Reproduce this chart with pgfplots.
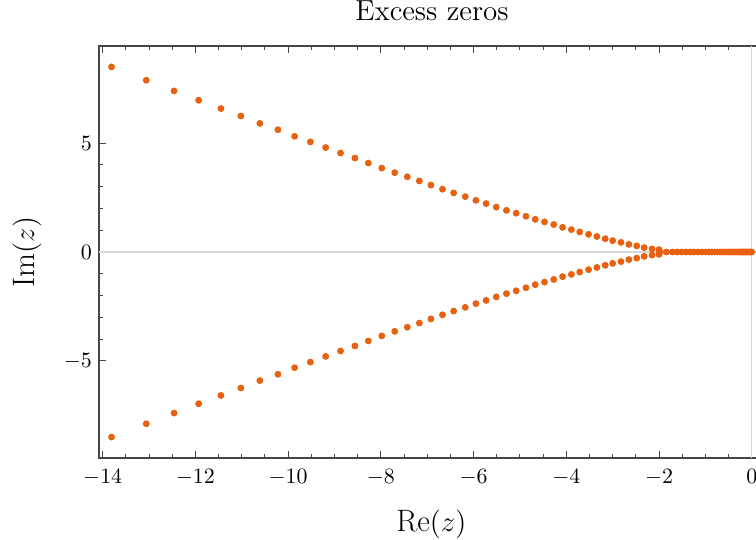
\documentclass[border=0pt]{standalone}
\usepackage{pgfplots}
\pgfplotsset{compat=1.18}
\definecolor{zeroOrange}{RGB}{232,97,16}
\definecolor{frameGray}{RGB}{70,70,70}
\definecolor{axisGray}{RGB}{215,215,215}

\begin{document}
\begin{tikzpicture}
\useasboundingbox (-49.5pt,-41pt) rectangle (328.5pt,229pt);
\begin{axis}[
    scale only axis,
    width=331pt, height=206pt,
    xmin=-14.08, xmax=0.2, ymin=-9.45, ymax=9.45,
    xtick={-14,-12,-10,-8,-6,-4,-2,0},
    ytick={-5,0,5},
    minor x tick num=3,
    minor y tick num=4,
    ytick pos=left,
    tick align=inside,
    major tick length=3.5pt,
    minor tick length=2pt,
    tick style={frameGray, line width=0.5pt},
    axis line style={frameGray, line width=0.6pt},
    tick label style={font=\fontsize{10.8pt}{12pt}\selectfont},
    xticklabel style={yshift=-2pt},
    title={Excess zeros},
    title style={at={(rel axis cs:0.503,1)}, anchor=base, yshift=6.5pt,
        font=\fontsize{14.5pt}{17pt}\selectfont},
    xlabel={Re$(z)$},
    ylabel={Im$(z)$},
    xlabel style={at={(rel axis cs:0.502,-0.16)}, anchor=center,
        font=\fontsize{15.5pt}{18pt}\selectfont},
    ylabel style={at={(rel axis cs:-0.109,0.5)}, anchor=center,
        font=\fontsize{15.5pt}{18pt}\selectfont},
]
\draw[axisGray, line width=0.6pt] (axis cs:-14.08,0) -- (axis cs:0.2,0);
\draw[axisGray, line width=0.6pt] (axis cs:0,-9.45) -- (axis cs:0,9.45);

% upper branch
\addplot[only marks, mark=*, mark size=1.5pt, color=zeroOrange] coordinates {
(-13.81,8.49) (-13.06,7.88) (-12.46,7.39) (-11.93,6.96) (-11.45,6.58)
(-11.02,6.24) (-10.61,5.90) (-10.22,5.61) (-9.86,5.31) (-9.52,5.05)
(-9.19,4.79) (-8.87,4.54) (-8.56,4.31) (-8.27,4.08) (-7.98,3.85)
(-7.70,3.64) (-7.43,3.45) (-7.17,3.26) (-6.92,3.07) (-6.67,2.88)
(-6.43,2.71) (-6.18,2.54) (-5.95,2.37) (-5.73,2.22) (-5.51,2.06)
(-5.29,1.91) (-5.08,1.78) (-4.87,1.64) (-4.67,1.50) (-4.47,1.38)
(-4.27,1.26) (-4.08,1.13) (-3.89,1.03) (-3.71,0.92) (-3.52,0.81)
(-3.34,0.71) (-3.16,0.61) (-3.00,0.52) (-2.82,0.44) (-2.65,0.35)
(-2.48,0.28) (-2.32,0.20) (-2.15,0.14) (-2.00,0.11) (-1.99,0.03)
};
% lower branch
\addplot[only marks, mark=*, mark size=1.5pt, color=zeroOrange] coordinates {
(-13.81,-8.49) (-13.06,-7.88) (-12.46,-7.39) (-11.93,-6.96) (-11.45,-6.58)
(-11.02,-6.24) (-10.61,-5.90) (-10.22,-5.61) (-9.86,-5.31) (-9.52,-5.05)
(-9.19,-4.79) (-8.87,-4.54) (-8.56,-4.31) (-8.27,-4.08) (-7.98,-3.85)
(-7.70,-3.64) (-7.43,-3.45) (-7.17,-3.26) (-6.92,-3.07) (-6.67,-2.88)
(-6.43,-2.71) (-6.18,-2.54) (-5.95,-2.37) (-5.73,-2.22) (-5.51,-2.06)
(-5.29,-1.91) (-5.08,-1.78) (-4.87,-1.64) (-4.67,-1.50) (-4.47,-1.38)
(-4.27,-1.26) (-4.08,-1.13) (-3.89,-1.03) (-3.71,-0.92) (-3.52,-0.81)
(-3.34,-0.71) (-3.16,-0.61) (-3.00,-0.52) (-2.82,-0.44) (-2.65,-0.35)
(-2.48,-0.28) (-2.32,-0.20) (-2.15,-0.14) (-2.00,-0.11) (-1.99,-0.03)
};
% real zeros
\addplot[only marks, mark=*, mark size=1.5pt, color=zeroOrange] coordinates {
(-1.84,0) (-1.71,0) (-1.61,0) (-1.51,0) (-1.42,0) (-1.33,0) (-1.25,0)
(-1.16,0) (-1.07,0) (-0.99,0) (-0.92,0) (-0.86,0) (-0.80,0) (-0.74,0)
(-0.69,0) (-0.64,0) (-0.59,0) (-0.54,0) (-0.50,0) (-0.46,0) (-0.42,0)
(-0.38,0) (-0.34,0) (-0.30,0) (-0.27,0) (-0.24,0) (-0.21,0) (-0.18,0)
(-0.15,0) (-0.12,0) (-0.09,0) (-0.06,0) (-0.03,0) (0.00,0)
};
\end{axis}
\end{tikzpicture}
\end{document}
